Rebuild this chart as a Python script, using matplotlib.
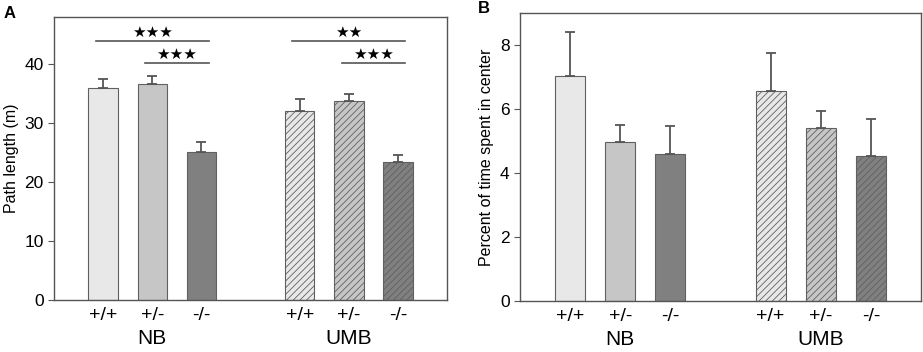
import numpy as np
import matplotlib
matplotlib.use('Agg')
import matplotlib.pyplot as plt

plt.rcParams['font.family'] = ['Liberation Sans', 'DejaVu Sans']
plt.rcParams['hatch.linewidth'] = 0.6
plt.rcParams['hatch.color'] = '#303030'

genotypes = ['+/+', '+/-', '-/-']
groups = ['NB', 'UMB']

path_mean = [35.9, 36.7, 25.1, 32.1, 33.8, 23.4]
path_err = [1.5, 1.2, 1.6, 1.9, 1.1, 1.2]

center_mean = [7.02, 4.97, 4.60, 6.57, 5.41, 4.52]
center_err = [1.38, 0.52, 0.86, 1.18, 0.52, 1.15]

# significance: (bar i, bar j, y, label)
path_sig = [(0, 2, 43.9, '★★★'), (1, 2, 40.2, '★★★'),
            (3, 5, 43.9, '★★'), (4, 5, 40.2, '★★★')]

fills = ['#e8e8e8', '#c6c6c6', '#808080']
xpos = [0, 1, 2, 4, 5, 6]
edge = '#606060'


def draw_panel(ax, means, errs, ylim, yticks, ylabel):
  for i, (x, m, e) in enumerate(zip(xpos, means, errs)):
    hatch = '/////' if i >= 3 else None
    ax.bar(x, m, width=0.6, color=fills[i % 3], edgecolor=edge,
           linewidth=0.8, hatch=hatch, zorder=2)
    ax.errorbar(x, m, yerr=[[0], [e]], fmt='none', ecolor='#555555',
                elinewidth=1.3, capsize=3.5, capthick=1.3, zorder=3)
  ax.set_xlim(-1, 7)
  ax.set_ylim(*ylim)
  ax.set_yticks(yticks)
  ax.set_xticks(xpos)
  ax.set_xticklabels(genotypes * 2, fontsize=14)
  ax.tick_params(axis='x', length=0, pad=5)
  ax.tick_params(axis='y', labelsize=12.5, length=4, color='#555555',
                 direction='out')
  for s in ax.spines.values():
    s.set_color('#555555')
    s.set_linewidth(1.0)
  ax.set_ylabel(ylabel, fontsize=11.5)
  for k, g in enumerate(groups):
    ax.text(np.mean(xpos[k * 3:k * 3 + 3]), -0.135, g, fontsize=15,
            ha='center', va='center', transform=ax.get_xaxis_transform())


fig = plt.figure(figsize=(9.23, 3.52), dpi=100)
axA = fig.add_axes([0.0585, 0.148, 0.426, 0.804])
axB = fig.add_axes([0.5634, 0.145, 0.4344, 0.819])

draw_panel(axA, path_mean, path_err, (0, 48), [0, 10, 20, 30, 40],
           'Path length (m)')
draw_panel(axB, center_mean, center_err, (0, 9), [0, 2, 4, 6, 8],
           'Percent of time spent in center')

for i, j, y, lab in path_sig:
  axA.plot([xpos[i] - 0.15, xpos[j] + 0.15], [y, y], color='#555555',
           lw=1.2, zorder=3)
  axA.text((xpos[i] + xpos[j]) / 2, y + 1.45, lab, ha='center',
           va='center', fontsize=11, family='DejaVu Sans')

fig.text(0.004, 0.963, 'A', fontsize=12, fontweight='bold', va='center')
fig.text(0.518, 0.975, 'B', fontsize=12, fontweight='bold', va='center')

fig.savefig('out.png', dpi=100)
